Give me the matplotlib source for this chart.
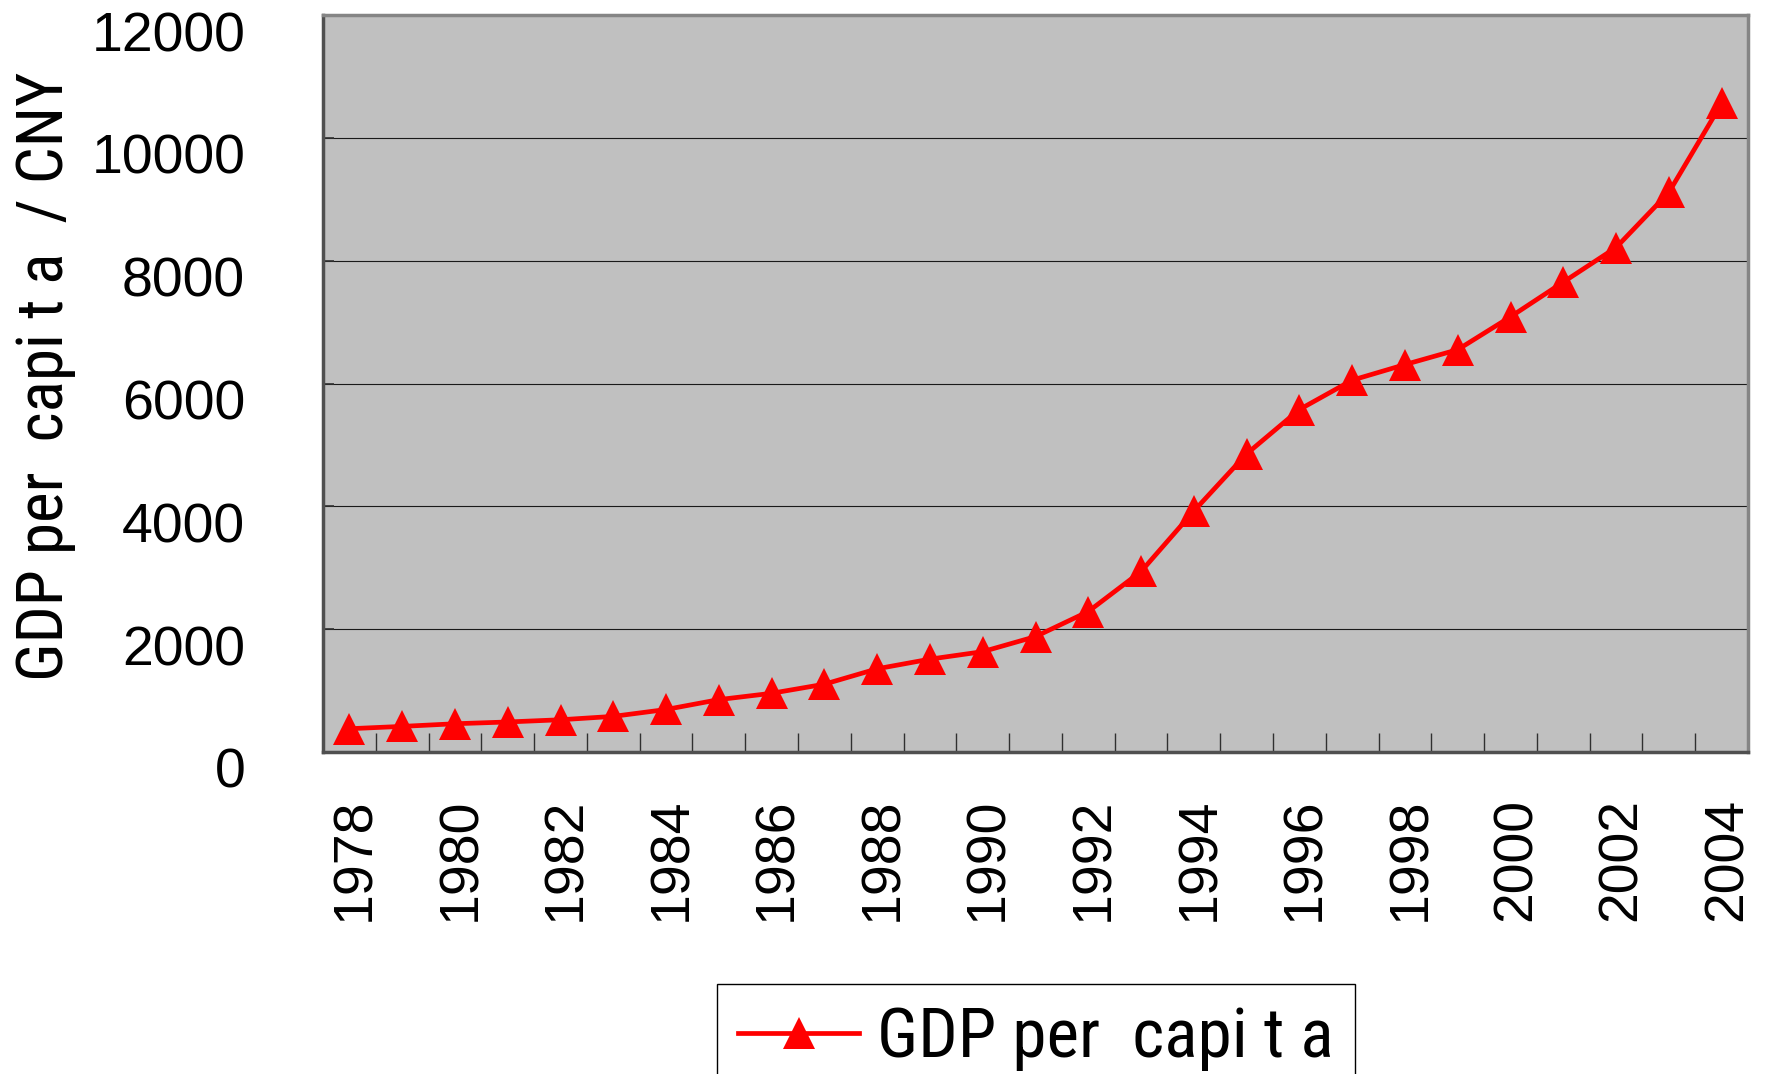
import matplotlib
matplotlib.use("Agg")
import matplotlib.pyplot as plt
from matplotlib.transforms import ScaledTranslation
import numpy as np

years = list(range(1978, 2005))
gdp_per_capita = [379, 417, 460, 489, 525, 580, 692, 853, 956, 1104, 1355, 1512,
                  1634, 1879, 2287, 2939, 3923, 4854, 5576, 6054, 6308, 6551,
                  7086, 7651, 8214, 9111, 10561]
y_ticks = [0, 2000, 4000, 6000, 8000, 10000, 12000]
series_label = "GDP per  capi t a"
y_label = "GDP per  capi t a  / CNY"

W, H = 1767, 1074
DPI = 100
fig = plt.figure(figsize=(W / DPI, H / DPI), dpi=DPI)
fig.patch.set_facecolor("white")

L, R, T, B = 323, 1748, 15, 752
ax = fig.add_axes([L / W, 1 - B / H, (R - L) / W, (B - T) / H])
ax.set_facecolor("#C0C0C0")

x = np.arange(len(years))
line, = ax.plot(x, gdp_per_capita, color="#FF0000", lw=3.4, marker="^",
                markersize=23, markeredgewidth=0, label=series_label,
                solid_joinstyle="round", clip_on=False, zorder=3)

ax.set_xlim(-0.5, len(years) - 0.5)
ax.set_ylim(0, 12000)

# grid
ax.set_yticks(y_ticks)
ax.yaxis.grid(True, color="#1a1a1a", lw=0.8)
ax.set_axisbelow(True)

tick_font = dict(family=["Liberation Sans", "DejaVu Sans"], size=40)
ax.set_yticklabels([str(v) for v in y_ticks], **tick_font)
ax.tick_params(axis="y", direction="in", length=8, width=1.2, color="#303030", pad=56)
for lab in ax.get_yticklabels():
    lab.set_transform(lab.get_transform() + ScaledTranslation(0, -16 / DPI, fig.dpi_scale_trans))

# x: labels every other year, tick marks between categories
major_idx = x[::2]
ax.set_xticks(major_idx)
ax.set_xticklabels([str(years[i]) for i in major_idx], rotation=90, **tick_font)
ax.tick_params(axis="x", which="major", length=0, pad=33)
for lab in ax.get_xticklabels():
    lab.set_transform(lab.get_transform() + ScaledTranslation(6 / DPI, 0, fig.dpi_scale_trans))
ax.set_xticks(np.arange(0.5, len(years) - 0.5, 1.0), minor=True)
ax.tick_params(axis="x", which="minor", direction="in", length=13.5, width=1.0, color="#303030")

for side in ["top", "right"]:
    ax.spines[side].set_color("#858585")
    ax.spines[side].set_linewidth(2.5)
for side in ["left", "bottom"]:
    ax.spines[side].set_color("#505050")
    ax.spines[side].set_linewidth(2.5)

narrow = ["Roboto Condensed", "Archivo Narrow", "Liberation Sans", "DejaVu Sans"]
fig.text(45 / W, 1 - 376 / H, y_label, rotation=90, ha="center", va="center",
         family=narrow, size=47)

leg = fig.legend(handles=[line], labels=[series_label], loc="upper left",
                 bbox_to_anchor=(717 / W, 1 - 984 / H), borderaxespad=0,
                 prop=dict(family=narrow, size=50), frameon=True, fancybox=False,
                 shadow=False, framealpha=1, edgecolor="black", borderpad=0.3,
                 handlelength=1.75, handletextpad=0.26, numpoints=1)
leg.get_frame().set_linewidth(1.0)

fig.savefig("out.png", dpi=DPI, facecolor="white")
